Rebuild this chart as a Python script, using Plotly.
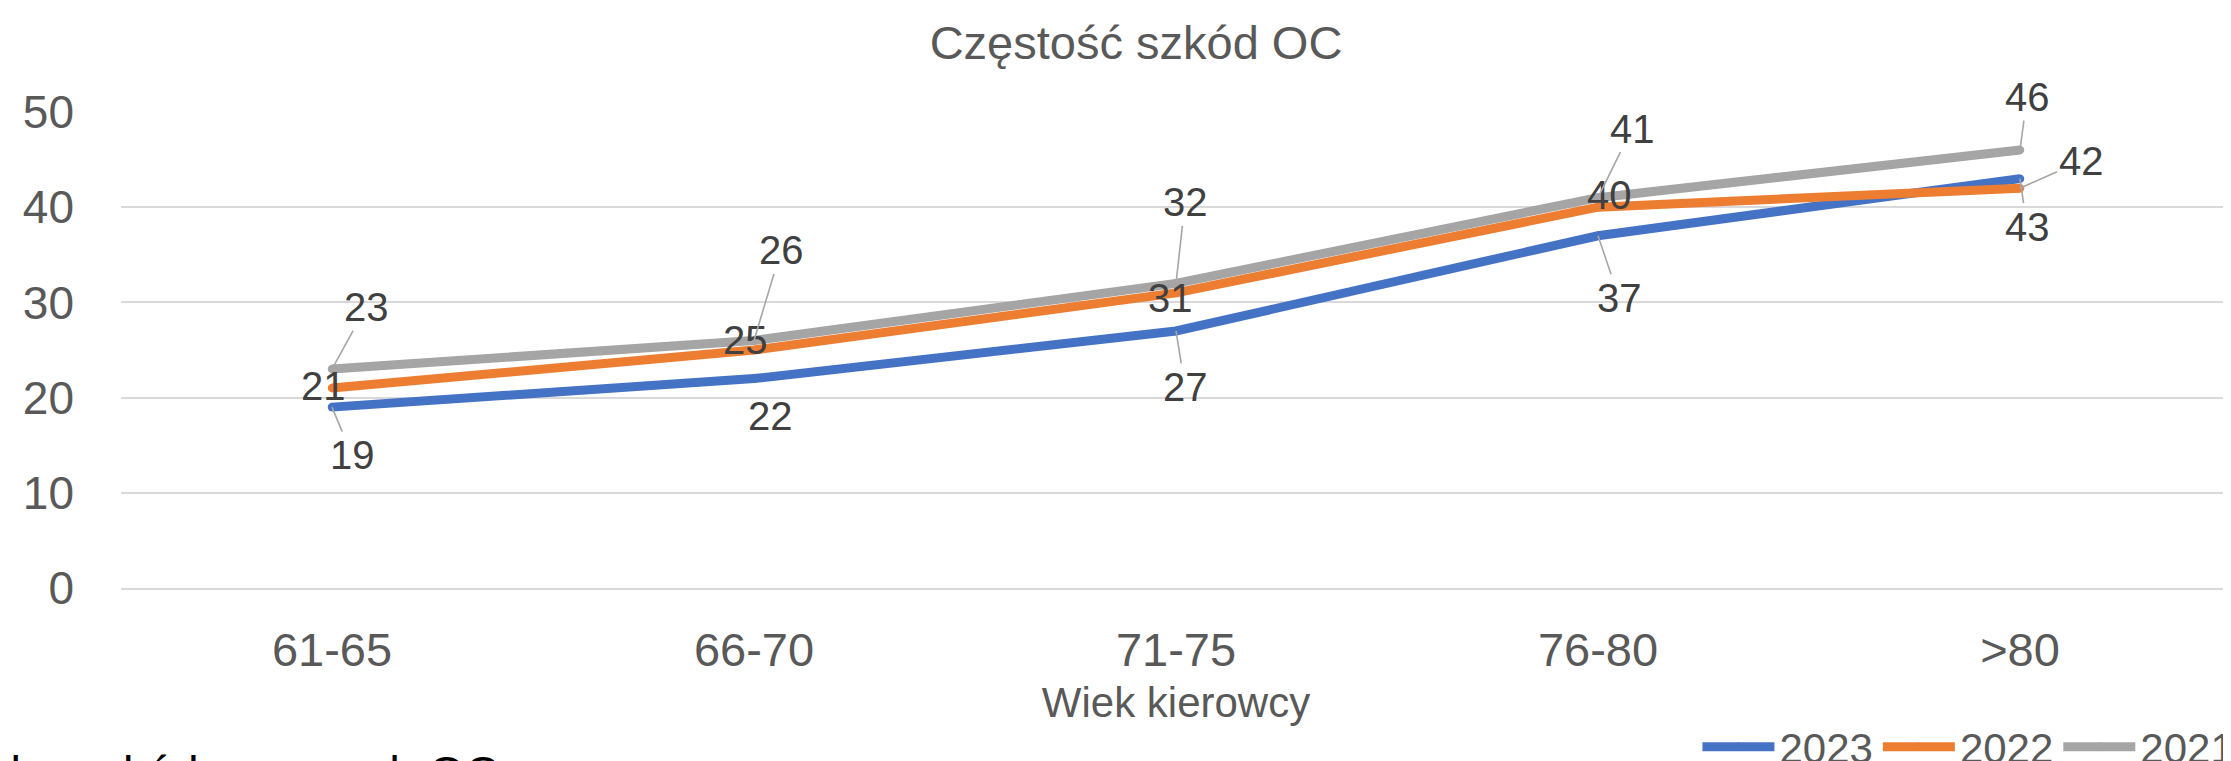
import plotly.graph_objects as go

categories = ["61-65", "66-70", "71-75", "76-80", ">80"]
series_names = ["2023", "2022", "2021"]
values_2023 = [19, 22, 27, 37, 43]
values_2022 = [21, 25, 31, 40, 42]
values_2021 = [23, 26, 32, 41, 46]
colors = ["#4472C4", "#ED7D31", "#A5A5A5"]

# label offsets in pixels (dx, dy screen, dy positive = down), leader line flag
offsets_2023 = [(20, 48, True), (16, 37, False), (9, 56, True), (21, 62, True), (7, 48, True)]
offsets_2022 = [(-9, -2, False), (-9, -10, False), (-6, 5, False), (11, -12, False), (61, -27, True)]
offsets_2021 = [(34, -62, True), (27, -90, True), (9, -81, True), (34, -69, True), (7, -53, True)]

FONT = "Liberation Sans, Arial, sans-serif"
W, H = 2223, 753  # page body adds an 8px offset inside the 2231x761 window

fig = go.Figure()
all_series = [values_2023, values_2022, values_2021]
all_offsets = [offsets_2023, offsets_2022, offsets_2021]
for name, vals, col in zip(series_names, all_series, colors):
    fig.add_trace(go.Scatter(
        x=categories, y=vals, name=name, mode="lines+markers",
        line=dict(color=col, width=9),
        marker=dict(color=col, size=8.5),
        hoverinfo="skip",
    ))

annotations = []
for vals, offs in zip(all_series, all_offsets):
    for cat, v, (dx, dy, leader) in zip(categories, vals, offs):
        if leader:
            annotations.append(dict(
                x=cat, y=v, xref="x", yref="y", text=str(v),
                showarrow=True, arrowhead=0, arrowwidth=1.6, arrowcolor="#A6A6A6",
                ax=dx, ay=dy, standoff=0,
                font=dict(family=FONT, size=40, color="#404040"),
            ))
        else:
            annotations.append(dict(
                x=cat, y=v, xref="x", yref="y", text=str(v),
                showarrow=False, xshift=dx, yshift=-dy,
                font=dict(family=FONT, size=40, color="#404040"),
            ))

# text line from the page below the chart (only its top shows, as in the reference)
annotations.append(dict(
    x=-0.0928, y=-0.328, xref="paper", yref="paper", xanchor="left", yanchor="top",
    text="Liczba szkód w ramach OC", showarrow=False,
    font=dict(family=FONT, size=47, color="#000000"),
))

fig.update_layout(
    width=W, height=H,
    margin=dict(l=113, r=0, t=104, b=173, autoexpand=False),
    paper_bgcolor="white", plot_bgcolor="white",
    title=dict(text="Częstość szkód OC", x=1128/W, xref="container", xanchor="center",
               y=1 - 35/H, yref="container", yanchor="middle",
               font=dict(family=FONT, size=47, color="#595959")),
    font=dict(family=FONT, color="#595959"),
    showlegend=True,
    legend=dict(orientation="h", x=1.004, xanchor="right", y=-0.2626, yanchor="top",
                font=dict(family=FONT, size=42, color="#595959"),
                itemwidth=72, tracegroupgap=0, bgcolor="rgba(0,0,0,0)"),
    annotations=annotations,
)
fig.update_xaxes(
    type="category", range=[-0.5, 4.5], showgrid=False, zeroline=False,
    showline=True, linecolor="#D9D9D9", linewidth=2, automargin=False,
    ticks="", ticklabelstandoff=20,
    tickfont=dict(family=FONT, size=47, color="#595959"),
    title=dict(text="Wiek kierowcy", standoff=12,
               font=dict(family=FONT, size=42, color="#595959")),
)
fig.update_yaxes(
    range=[0, 50], dtick=10, tick0=0, showgrid=True, gridcolor="#D9D9D9", gridwidth=2,
    zeroline=False, showline=False, ticks="", ticklabelstandoff=46, automargin=False,
    tickfont=dict(family=FONT, size=46, color="#595959"),
)

fig.write_html("out.html")
